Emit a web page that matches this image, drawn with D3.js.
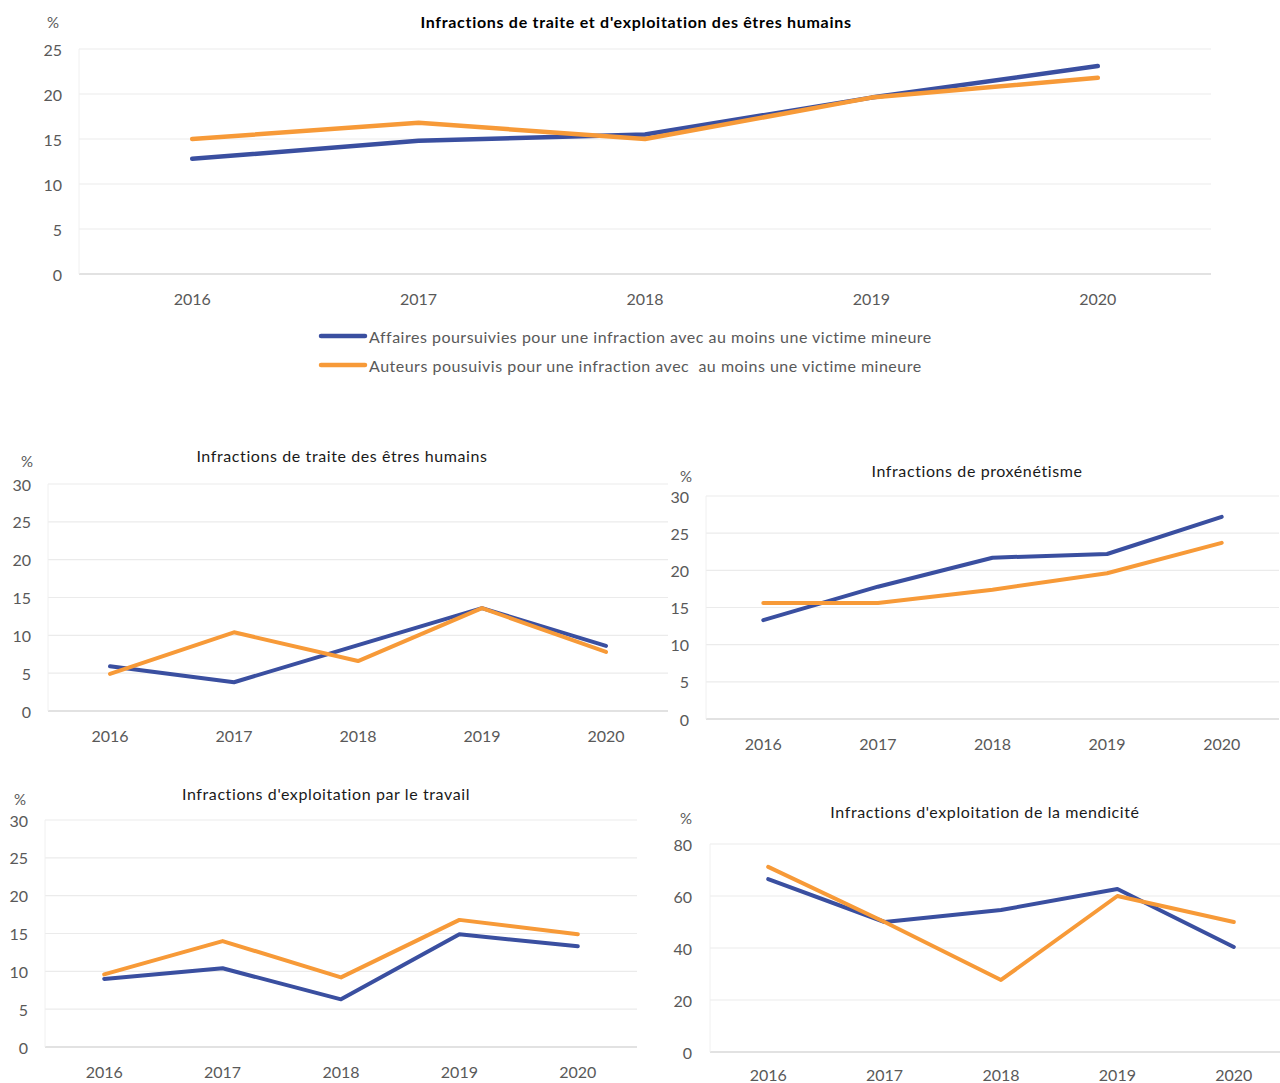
<!DOCTYPE html>
<html><head><meta charset="utf-8">
<script src="https://cdn.jsdelivr.net/npm/d3@7"></script>
<style>
html,body{margin:0;padding:0;background:#fff;}
svg text{font-family:Lato,"Open Sans",sans-serif;fill:#595959;}
</style></head>
<body><svg id="c" width="1280" height="1083"></svg>
<script>
// ---- data ----
const years = ["2016","2017","2018","2019","2020"];
const seriesNames = ["Affaires poursuivies pour une infraction avec au moins une victime mineure",
                     "Auteurs pousuivis pour une infraction avec  au moins une victime mineure"];
const totalAffaires = [12.8, 14.8, 15.5, 19.6, 23.1];
const totalAuteurs  = [15.0, 16.8, 15.0, 19.6, 21.8];
const traiteAffaires = [5.9, 3.8, 8.7, 13.6, 8.6];
const traiteAuteurs  = [4.9, 10.4, 6.6, 13.6, 7.8];
const proxAffaires = [13.3, 17.8, 21.7, 22.2, 27.2];
const proxAuteurs  = [15.6, 15.6, 17.4, 19.6, 23.7];
const travailAffaires = [9.0, 10.4, 6.3, 14.9, 13.3];
const travailAuteurs  = [9.6, 14.0, 9.2, 16.8, 14.9];
const mendAffaires = [66.5, 50.0, 54.6, 62.7, 40.4];
const mendAuteurs  = [71.2, 50.0, 27.7, 60.0, 50.0];
const ticks25 = [0,5,10,15,20,25];
const ticks30 = [0,5,10,15,20,25,30];
const ticks80 = [0,20,40,60,80];

const colors = ["#3A4FA0", "#F79A38"];
const svg = d3.select("#c");

function drawChart(o){
  const g = svg.append("g");
  const x = d3.scalePoint().domain(years).range([o.left, o.right]).padding(0.5);
  const y = d3.scaleLinear().domain([0, d3.max(o.ticks)]).range([o.bottom, o.top]);
  g.selectAll("line.grid").data(o.ticks.filter(t=>t>0)).join("line")
    .attr("x1", o.left).attr("x2", o.right)
    .attr("y1", d=>y(d)).attr("y2", d=>y(d))
    .attr("stroke", "#EBEBEB").attr("stroke-width", 1.2);
  g.append("line").attr("x1", o.left).attr("x2", o.right)
    .attr("y1", y(0)).attr("y2", y(0)).attr("stroke", "#D9D9D9").attr("stroke-width", 1.5);
  g.append("line").attr("x1", o.left).attr("x2", o.left)
    .attr("y1", y(0)).attr("y2", y(d3.max(o.ticks))).attr("stroke", "#F0F0F0").attr("stroke-width", 1);
  g.selectAll("text.yl").data(o.ticks).join("text")
    .attr("x", o.ylx).attr("y", d=>y(d)).attr("text-anchor","end")
    .attr("dominant-baseline","central").attr("font-size", o.fs).text(d=>d);
  g.selectAll("text.xl").data(years).join("text")
    .attr("x", d=>x(d)).attr("y", o.xly).attr("text-anchor","middle")
    .attr("dominant-baseline","central").attr("font-size", o.fs).text(d=>d);
  g.append("text").attr("x", o.px).attr("y", o.py).attr("text-anchor","middle")
    .attr("dominant-baseline","central").attr("font-size", o.fs-1).text("%");
  g.append("text").attr("x", o.tx).attr("y", o.ty).attr("text-anchor","middle")
    .attr("dominant-baseline","central").attr("font-size", o.tfs)
    .attr("font-weight", o.bold ? "bold" : "normal")
    .attr("letter-spacing", o.ls)
    .style("fill", o.bold ? "#000" : "#1a1a1a").text(o.title);
  const line = d3.line().x((d,i)=>x(years[i])).y(d=>y(d));
  o.series.forEach((s,k)=>{
    g.append("path").datum(s).attr("d", line).attr("fill","none")
      .attr("stroke", colors[k]).attr("stroke-width", o.lw)
      .attr("stroke-linecap","round").attr("stroke-linejoin","round");
  });
}

drawChart({left:79,right:1211,top:49,bottom:274,ticks:ticks25,ylx:62,xly:298,fs:16,
  px:53,py:22,tx:636,ty:21,tfs:16,bold:true,lw:4.5,ls:0.7,
  title:"Infractions de traite et d'exploitation des êtres humains",
  series:[totalAffaires,totalAuteurs]});
drawChart({left:48,right:668,top:484,bottom:711,ticks:ticks30,ylx:31,xly:735,fs:16,
  px:27,py:461,tx:342,ty:455,tfs:16,bold:false,lw:4,ls:0.6,
  title:"Infractions de traite des êtres humains",
  series:[traiteAffaires,traiteAuteurs]});
drawChart({left:706,right:1279,top:496,bottom:719,ticks:ticks30,ylx:689,xly:743,fs:16,
  px:686,py:476,tx:977,ty:470,tfs:16,bold:false,lw:4,ls:0.6,
  title:"Infractions de proxénétisme",
  series:[proxAffaires,proxAuteurs]});
drawChart({left:45,right:637,top:820,bottom:1047,ticks:ticks30,ylx:28,xly:1071,fs:16,
  px:20,py:799,tx:326,ty:793,tfs:16,bold:false,lw:4,ls:0.6,
  title:"Infractions d'exploitation par le travail",
  series:[travailAffaires,travailAuteurs]});
drawChart({left:710,right:1292,top:844,bottom:1052,ticks:ticks80,ylx:692,xly:1074,fs:16,
  px:686,py:818,tx:985,ty:811,tfs:16,bold:false,lw:4,ls:0.6,
  title:"Infractions d'exploitation de la mendicité",
  series:[mendAffaires,mendAuteurs]});

const leg = svg.append("g");
seriesNames.forEach((n,k)=>{
  const ly = 336 + k*29;
  leg.append("line").attr("x1",321).attr("x2",365).attr("y1",ly).attr("y2",ly)
    .attr("stroke",colors[k]).attr("stroke-width",4.5).attr("stroke-linecap","round");
  leg.append("text").attr("x",369).attr("y",ly).attr("dominant-baseline","central")
    .attr("font-size",16).attr("letter-spacing",0.5).style("white-space","pre").text(n);
});
</script></body></html>
